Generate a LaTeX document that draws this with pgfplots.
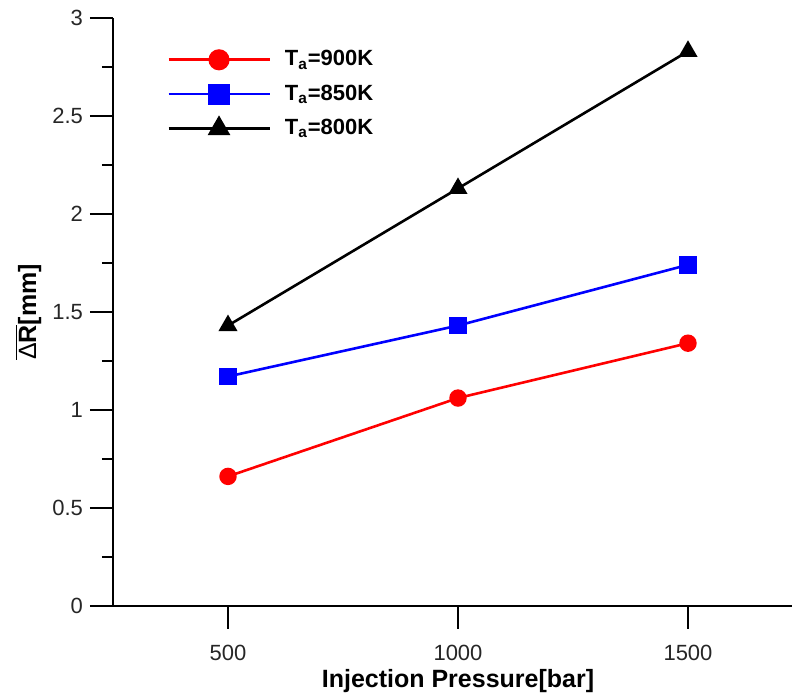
\documentclass[border=0pt]{standalone}
\usepackage{pgfplots}
\pgfplotsset{compat=1.18}
\usepackage{fontspec}
\setmainfont{Liberation Sans}

\begin{document}
\begin{tikzpicture}
% fixed page frame around the axis box
\path[use as bounding box] (-56.5pt,-44.65pt) rectangle (339.5pt,302.85pt);
\begin{axis}[
  at={(0,0)}, anchor=south west,
  scale only axis, width=345pt, height=293.85pt,
  xmin=250, xmax=1750, ymin=0, ymax=3,
  axis lines*=left,
  axis line style={line width=1pt, black},
  xtick={500,1000,1500},
  ytick={0,0.5,1,1.5,2,2.5,3},
  minor ytick={0.25,0.75,1.25,1.75,2.25,2.75},
  tick align=outside,
  major tick length=11.5pt, minor tick length=5.5pt,
  every tick/.style={black, line width=1pt},
  /pgf/number format/assume math mode=true,
  /pgf/number format/1000 sep={},
  tick label style={font=\fontsize{11}{13}\selectfont, text=black!85},
  xticklabel style={yshift=-4.5pt},
  xlabel={Injection Pressure[bar]},
  ylabel={$\overline{\mbox{\mdseries Δ\bfseries R}}$[mm]},
  label style={font=\bfseries\fontsize{12.5}{15}\selectfont},
  xlabel style={at={(axis description cs:0.5,-0.128)}, anchor=center},
  ylabel style={at={(axis description cs:-0.123,0.5)}, anchor=center},
  legend style={draw=none, fill=none, inner sep=0pt,
    at={(axis description cs:0.078,0.952)}, anchor=north west,
    font=\bfseries\fontsize{11}{13}\selectfont,
    row sep=4pt,
    /tikz/every odd column/.append style={column sep=5pt}},
  legend cell align=left,
  legend image code/.code={
    \draw[mark repeat=2, mark phase=2, every mark/.append style={scale=1.25}]
      plot coordinates {(0pt,0pt) (25.25pt,0pt) (50.5pt,0pt)};
  },
  every axis plot/.append style={line width=1.3pt},
]
\addplot[red, mark=*, mark size=3.7pt]
  coordinates {(500,0.66) (1000,1.06) (1500,1.34)};
\addlegendentry{T\textsubscript{a}=900K}
\addplot[blue, mark=square*, mark size=3.7pt]
  coordinates {(500,1.17) (1000,1.43) (1500,1.74)};
\addlegendentry{T\textsubscript{a}=850K}
\addplot[black, mark=triangle*, mark size=4.2pt]
  coordinates {(500,1.43) (1000,2.13) (1500,2.83)};
\addlegendentry{T\textsubscript{a}=800K}
\end{axis}
\end{tikzpicture}
\end{document}
